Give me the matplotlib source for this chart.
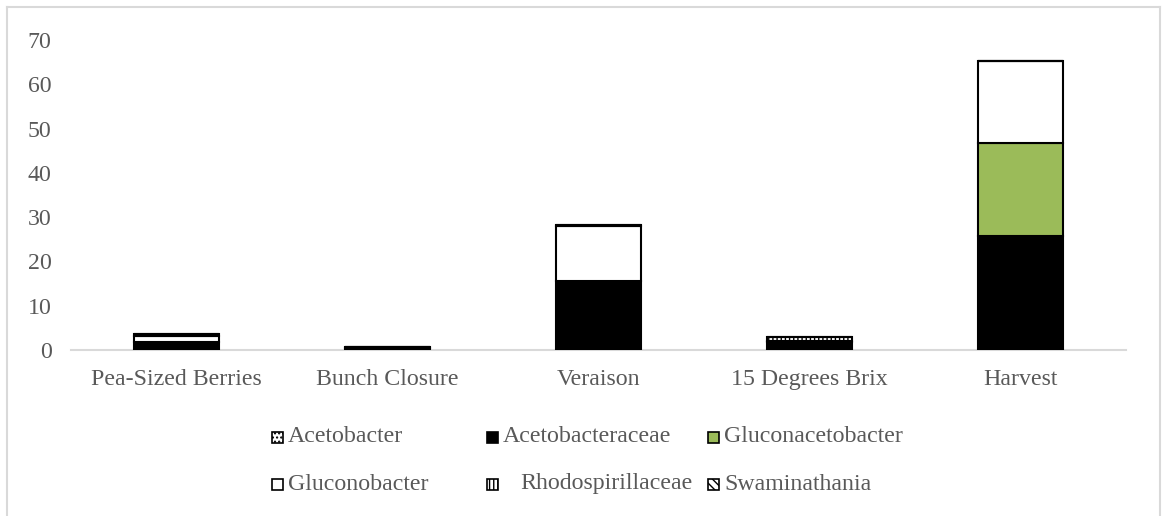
import matplotlib
matplotlib.use("Agg")
import matplotlib.pyplot as plt
from matplotlib.patches import Rectangle
from matplotlib.lines import Line2D
import numpy as np

plt.rcParams['font.family'] = ['Liberation Serif', 'DejaVu Serif']
plt.rcParams['hatch.linewidth'] = 1.0

stages = ["Pea-Sized Berries", "Bunch Closure", "Veraison", "15 Degrees Brix", "Harvest"]

acetobacter = [0.0, 0.0, 0.0, 0.0, 0.0]
acetobacteraceae = [1.9, 0.5, 15.6, 1.8, 25.7]
gluconacetobacter = [0.0, 0.0, 0.0, 0.0, 21.0]
gluconobacter = [1.3, 0.1, 12.4, 0.2, 18.5]
rhodospirillaceae = [0.4, 0.1, 0.3, 0.9, 0.0]
swaminathania = [0.0, 0.0, 0.0, 0.0, 0.0]

series = [
    ("Acetobacter", acetobacter, "white", "...."),
    ("Acetobacteraceae", acetobacteraceae, "black", None),
    ("Gluconacetobacter", gluconacetobacter, "#9bbb59", None),
    ("Gluconobacter", gluconobacter, "white", None),
    ("Rhodospirillaceae", rhodospirillaceae, "white", "||||"),
    ("Swaminathania", swaminathania, "white", "\\\\\\\\"),
]

FS = 17.2
W, H = 1162, 516
fig = plt.figure(figsize=(W / 100, H / 100), dpi=100)
ax = fig.add_axes([71 / W, 1 - 350 / H, (1126 - 71) / W, (350 - 40) / H])

x = np.arange(len(stages))
bottom = np.zeros(len(stages))
for name, vals, color, hatch in series:
    vals = np.array(vals)
    ax.bar(x, vals, width=0.40, bottom=bottom, color=color, edgecolor="black",
           linewidth=1.5, hatch=hatch, zorder=3)
    bottom += vals

ax.set_xlim(-0.5, len(stages) - 0.5)
ax.set_ylim(0, 70)
ax.set_yticks(range(0, 71, 10))
ax.set_xticks(x)
ax.set_xticklabels(stages)
ax.tick_params(axis="both", length=0, labelsize=FS, colors="#595959")
ax.tick_params(axis="y", pad=14)
ax.tick_params(axis="x", pad=14)
for side in ["top", "right", "left"]:
    ax.spines[side].set_visible(False)
ax.spines["bottom"].set_color("#d9d9d9")
ax.spines["bottom"].set_linewidth(1.5)

# legend drawn in figure pixels
legend_items = [
    ("Acetobacter", "white", "....", 277, 437, 288),
    ("Acetobacteraceae", "black", None, 492, 437, 503),
    ("Gluconacetobacter", "#9bbb59", None, 713, 437, 724),
    ("Gluconobacter", "white", None, 277, 484, 288),
    ("Rhodospirillaceae", "white", "||||", 492, 484, 520),
    ("Swaminathania", "white", "\\\\\\\\", 713, 484, 724),
]
s = 11
for label, color, hatch, mx, my, tx in legend_items:
    fig.patches.append(Rectangle(((mx - s / 2) / W, 1 - (my + s / 2) / H), s / W, s / H,
                                 transform=fig.transFigure, facecolor=color,
                                 edgecolor="black", linewidth=1.2, hatch=hatch))
    fig.text(tx / W, 1 - my / H, label, fontsize=FS, color="#595959",
             va="center", ha="left")

# outer frame
frame_color = "#d9d9d9"
fig.lines.append(Line2D([7 / W, 7 / W], [0, 1 - 7 / H], transform=fig.transFigure,
                        color=frame_color, linewidth=1.5))
fig.lines.append(Line2D([7 / W, 1160 / W], [1 - 7 / H, 1 - 7 / H], transform=fig.transFigure,
                        color=frame_color, linewidth=1.5))
fig.lines.append(Line2D([1160 / W, 1160 / W], [0, 1 - 7 / H], transform=fig.transFigure,
                        color=frame_color, linewidth=1.5))

fig.savefig("out.png", dpi=100, facecolor="white")
